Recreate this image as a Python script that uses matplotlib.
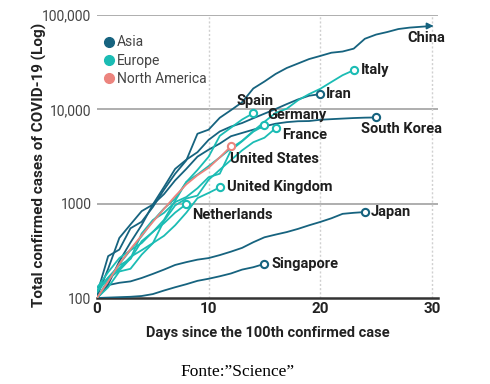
import matplotlib.pyplot as plt
from matplotlib.lines import Line2D
import numpy as np

plt.rcParams['font.family'] = ['Liberation Sans Narrow', 'Roboto', 'DejaVu Sans']

# total confirmed cases, one value per day since the 100th case
china = [110, 278, 326, 548, 643, 920, 1406, 2075, 2877, 5509, 6087, 8141, 9802,
         11891, 16630, 19716, 23707, 27440, 30587, 34110, 36814, 39829, 41000,
         44000, 56000, 62000, 66000, 71000, 73500, 75000, 76500]
south_korea = [104, 204, 433, 602, 833, 977, 1261, 1766, 2337, 3150, 3736, 4335,
               5186, 5621, 6088, 6593, 7041, 7314, 7478, 7513, 7755, 7869, 7979,
               8086, 8162, 8200]
iran = [100, 139, 245, 388, 593, 978, 1501, 2336, 2922, 3513, 4747, 5823, 6566,
        7161, 8042, 9000, 10075, 11364, 12729, 13938, 14500]
japan = [100, 137, 145, 150, 163, 180, 200, 224, 240, 255, 265, 285, 310, 340,
         390, 440, 470, 500, 540, 590, 640, 700, 780, 800, 815]
singapore = [100, 101, 102, 103, 105, 110, 120, 130, 140, 152, 160, 170, 182,
             200, 212, 230]
italy = [100, 155, 229, 322, 453, 655, 888, 1128, 1694, 2036, 2502, 3089, 3858,
         4636, 5883, 7375, 9172, 10149, 12462, 14500, 16500, 19500, 23000, 26000]
spain = [120, 165, 222, 259, 400, 500, 673, 1073, 1695, 2277, 3146, 5232, 6391,
         7798, 9100]
germany = [130, 159, 196, 262, 482, 670, 799, 1040, 1176, 1457, 1908, 2078, 3675,
           4585, 5795, 6750]
france = [100, 130, 191, 204, 288, 380, 656, 957, 1134, 1217, 1792, 2289, 2900,
          3672, 4480, 5000, 6300]
uk = [115, 163, 206, 273, 321, 382, 456, 590, 802, 1144, 1300, 1490]
netherlands = [128, 188, 265, 321, 382, 503, 620, 804, 990]
us = [100, 150, 230, 330, 460, 640, 880, 1200, 1600, 2000, 2400, 3100, 4050]

regions = ['Asia', 'Europe', 'North America']
colors = {'Asia': '#16637f', 'Europe': '#1bbcb4', 'North America': '#ec847e'}

countries = [
    ('China', china, 'Asia'),
    ('South Korea', south_korea, 'Asia'),
    ('Iran', iran, 'Asia'),
    ('Japan', japan, 'Asia'),
    ('Singapore', singapore, 'Asia'),
    ('Italy', italy, 'Europe'),
    ('Spain', spain, 'Europe'),
    ('Germany', germany, 'Europe'),
    ('France', france, 'Europe'),
    ('United Kingdom', uk, 'Europe'),
    ('Netherlands', netherlands, 'Europe'),
    ('United States', us, 'North America'),
]

# label placement: offset in pixels from the last point, horizontal alignment
label_pos = {
    'China': (13, -12, 'right'),
    'South Korea': (25, -12, 'center'),
    'Iran': (6, 0, 'left'),
    'Japan': (6, 0, 'left'),
    'Singapore': (7, 0, 'left'),
    'Italy': (7, 0, 'left'),
    'Spain': (2, 12, 'center'),
    'Germany': (3, 10, 'left'),
    'France': (7, -7, 'left'),
    'United Kingdom': (7, 0, 'left'),
    'Netherlands': (6, -11, 'left'),
    'United States': (-1, -13, 'left'),
}

fig = plt.figure(figsize=(4.9, 3.84), dpi=100)
ax = fig.add_axes([97 / 490, 1 - 298 / 384, 341 / 490, 283 / 384])

for name, vals, reg in countries:
    days = np.arange(len(vals))
    c = colors[reg]
    ax.plot(days, vals, color=c, lw=1.3, zorder=3, solid_capstyle='round')
    if name == 'China':
        ax.annotate('', xy=(days[-1] + 0.4, vals[-1]), xytext=(days[-1] - 0.5, vals[-1]),
                    arrowprops=dict(arrowstyle='-|>', color=c, lw=1.3, mutation_scale=9),
                    zorder=4)
    else:
        ax.plot(days[-1], vals[-1], 'o', ms=5.2, mfc='white', mec=c, mew=1.5, zorder=5)
    dx, dy, ha = label_pos[name]
    ax.annotate(name, xy=(days[-1], vals[-1]), xytext=(dx, dy), textcoords='offset pixels',
                ha=ha, va='center', fontsize=10.5, fontweight='bold', color='#1e1e1e',
                zorder=6, annotation_clip=False)

ax.set_yscale('log')
ax.set_xlim(0, 30.55)
ax.set_ylim(100, 100000)
ax.set_yticks([100, 1000, 10000, 100000])
ax.set_yticklabels(['100', '1000', '10,000', '100,000'])
ax.set_xticks([0, 10, 20, 30])
ax.minorticks_off()

for v in [1000, 10000, 100000]:
    ax.axhline(v, color='#a8a8a8', lw=1.3, zorder=1)
for d in [10, 20, 30]:
    ax.axvline(d, color='#d0d0d0', lw=1.0, ls=(0, (1.5, 1.5)), zorder=1)

for s in ['top', 'right', 'left']:
    ax.spines[s].set_visible(False)
ax.spines['bottom'].set_color('#333333')
ax.spines['bottom'].set_linewidth(1.8)

ax.tick_params(axis='y', length=0, pad=4, labelsize=10, labelcolor='#444444')
ax.tick_params(axis='x', length=0, pad=3, labelsize=11, labelcolor='#222222')
for t in ax.get_xticklabels():
    t.set_fontweight('bold')

ax.set_xlabel('Days since the 100th confirmed case', fontsize=10.5, fontweight='bold',
              color='#222222')
ax.xaxis.set_label_coords(0.5, -0.10)
ax.set_ylabel('Total confirmed cases of COVID-19 (Log)', fontsize=11, fontweight='bold',
              color='#222222')
ax.yaxis.set_label_coords(-0.147, 0.47)

handles = [Line2D([], [], ls='', marker='o', ms=7, color=colors[r]) for r in regions]
ax.legend(handles, regions, loc='upper left', bbox_to_anchor=(-0.015, 0.962), frameon=False,
          fontsize=10, labelcolor='#444444', handletextpad=0.1, handlelength=1.0,
          borderaxespad=0.3, labelspacing=0.3)

fig.text(238 / 490, 1 - 372 / 384, 'Fonte:\u201dScience\u201d', family='Liberation Serif',
         fontsize=12.5, ha='center', va='center', color='black')

fig.savefig('out.png', dpi=100)
